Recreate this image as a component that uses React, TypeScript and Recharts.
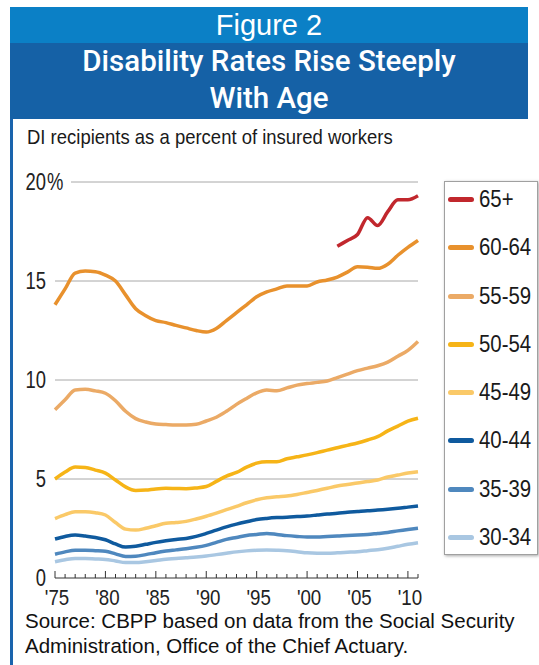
import React from 'react';
import { LineChart, Line, XAxis, YAxis, CartesianGrid, Legend } from 'recharts';

// DI recipients as a percent of insured workers, by age group
const years = [
    1975, 1976, 1977, 1978, 1979, 1980, 1981, 1982, 1983, 1984,
    1985, 1986, 1987, 1988, 1989, 1990, 1991, 1992, 1993, 1994,
    1995, 1996, 1997, 1998, 1999, 2000, 2001, 2002, 2003, 2004,
    2005, 2006, 2007, 2008, 2009, 2010, 2011,
];

const age65plus = [
    null, null, null, null, null, null, null, null, null, null,
    null, null, null, null, null, null, null, null, null, null,
    null, null, null, null, null, null, null, null, 16.75, 17.05,
    17.35, 18.2, 17.8, 18.5, 19.1, 19.1, 19.3,
];
const age60to64 = [
    13.8, 14.6, 15.4, 15.5, 15.47, 15.3, 15.0, 14.3, 13.6, 13.25,
    13.0, 12.9, 12.76, 12.63, 12.5, 12.42, 12.6, 13.0, 13.4, 13.8,
    14.2, 14.45, 14.6, 14.75, 14.75, 14.75, 14.95, 15.05, 15.2, 15.45,
    15.72, 15.7, 15.64, 15.85, 16.3, 16.7, 17.05,
];
const age55to59 = [
    8.5, 9.0, 9.5, 9.53, 9.45, 9.33, 8.95, 8.42, 8.05, 7.88,
    7.78, 7.75, 7.73, 7.73, 7.76, 7.93, 8.12, 8.42, 8.77, 9.07,
    9.35, 9.49, 9.46, 9.6, 9.74, 9.82, 9.88, 9.95, 10.12, 10.3,
    10.47, 10.6, 10.72, 10.9, 11.2, 11.5, 11.95,
];
const age50to54 = [
    5.0, 5.35, 5.6, 5.58, 5.45, 5.3, 4.95, 4.6, 4.42, 4.44,
    4.5, 4.53, 4.52, 4.51, 4.55, 4.62, 4.88, 5.15, 5.33, 5.6,
    5.8, 5.87, 5.87, 6.02, 6.12, 6.22, 6.33, 6.46, 6.58, 6.7,
    6.82, 6.97, 7.14, 7.43, 7.67, 7.92, 8.07,
];
const age45to49 = [
    3.0, 3.2, 3.35, 3.35, 3.3, 3.18, 2.8, 2.47, 2.42, 2.51,
    2.64, 2.76, 2.8, 2.86, 2.98, 3.12, 3.28, 3.45, 3.62, 3.8,
    3.95, 4.05, 4.1, 4.14, 4.22, 4.32, 4.42, 4.53, 4.65, 4.72,
    4.8, 4.87, 4.95, 5.1, 5.2, 5.3, 5.37,
];
const age40to44 = [
    1.97, 2.1, 2.17, 2.12, 2.05, 1.93, 1.72, 1.56, 1.6, 1.7,
    1.8, 1.88, 1.95, 2.0, 2.1, 2.25, 2.42, 2.58, 2.72, 2.84,
    2.95, 3.01, 3.05, 3.07, 3.1, 3.13, 3.18, 3.23, 3.27, 3.32,
    3.36, 3.4, 3.43, 3.47, 3.52, 3.58, 3.64,
];
const age35to39 = [
    1.2, 1.32, 1.4, 1.4, 1.38, 1.35, 1.22, 1.09, 1.1, 1.18,
    1.28, 1.36, 1.42, 1.48, 1.55, 1.65, 1.8, 1.95, 2.05, 2.15,
    2.2, 2.25, 2.2, 2.14, 2.1, 2.07, 2.07, 2.1, 2.12, 2.15,
    2.17, 2.2, 2.25, 2.3, 2.38, 2.45, 2.51,
];
const age30to34 = [
    0.82, 0.92, 0.99, 0.98, 0.96, 0.94, 0.86, 0.78, 0.78, 0.82,
    0.88, 0.95, 0.98, 1.02, 1.06, 1.11, 1.18, 1.25, 1.32, 1.37,
    1.4, 1.41, 1.4, 1.38, 1.33, 1.27, 1.25, 1.25, 1.27, 1.3,
    1.33, 1.38, 1.43, 1.5, 1.6, 1.7, 1.78,
];

const yTicks = [0, 5, 10, 15, 20];

const series = [
    { key: 'a65', name: '65+', values: age65plus, color: '#c1272d' },
    { key: 'a60', name: '60-64', values: age60to64, color: '#e8912d' },
    { key: 'a55', name: '55-59', values: age55to59, color: '#ebaa66' },
    { key: 'a50', name: '50-54', values: age50to54, color: '#f6b417' },
    { key: 'a45', name: '45-49', values: age45to49, color: '#fac968' },
    { key: 'a40', name: '40-44', values: age40to44, color: '#0f5a9e' },
    { key: 'a35', name: '35-39', values: age35to39, color: '#4f88be' },
    { key: 'a30', name: '30-34', values: age30to34, color: '#a9c7e2' },
];

const chartData = years.map((year, i) => {
    const row: any = { year };
    series.forEach((s) => { row[s.key] = s.values[i]; });
    return row;
});

// no condensed face installed, so squeeze Liberation Sans horizontally
const sans = '"Liberation Sans", Arial, sans-serif';

const YTick = ({ x, y, payload }: any) => {
    const v = payload.value;
    return (
        <g>
            {v === 20 && <rect x={x - 1} y={y - 4} width={17} height={8} fill="#fff" />}
            <text transform={`translate(${x - 9},${y + 8}) scale(0.8,1)`} textAnchor="end" fontFamily={sans} fontSize={23} fill="#222">{v}</text>
            {v === 20 && (
                <text transform={`translate(${x - 8},${y + 8}) scale(0.8,1)`} textAnchor="start" fontFamily={sans} fontSize={23} fill="#222">%</text>
            )}
        </g>
    );
};

const XTick = ({ x, y, payload }: any) => {
    const major = payload.value % 5 === 0;
    return (
        <g>
            <line x1={x} x2={x} y1={y} y2={y - (major ? 7 : 4)} stroke="#333" strokeWidth={1} />
            {major && (
                <text transform={`translate(${x + 2},${y + 27}) scale(0.85,1)`} textAnchor="middle" fontFamily={sans} fontSize={22} fill="#222">
                    {"'" + String(payload.value).slice(2)}
                </text>
            )}
        </g>
    );
};

const LegendBox = () => (
    <div style={{
        width: 94, height: 374, boxSizing: 'border-box', border: '1px solid #a0a0a0',
        boxShadow: '1px 1px 3px rgba(0,0,0,0.35)', background: '#fff',
        display: 'flex', flexDirection: 'column', justifyContent: 'space-between', padding: '5px 0',
    }}>
        {series.map((s) => (
            <div key={s.key} style={{ height: 24, position: 'relative' }}>
                <div style={{ position: 'absolute', left: 3, top: 10, width: 26, height: 5, borderRadius: 3, background: s.color }} />
                <span style={{
                    position: 'absolute', left: 34, top: 0, lineHeight: '24px', fontFamily: sans, fontSize: 24,
                    color: '#1a1a1a', whiteSpace: 'nowrap', transform: 'scaleX(0.85)', transformOrigin: 'left center',
                }}>{s.name}</span>
            </div>
        ))}
    </div>
);

export default function App() {
    return (
        <div style={{ position: 'absolute', left: 0, top: 0, width: 539, height: 665, background: '#fff', overflow: 'hidden' }}>
            <div style={{ position: 'absolute', left: 10, top: 7, width: 3, height: 658, background: '#1a64ad' }} />
            <div style={{
                position: 'absolute', left: 10, top: 7, width: 518, height: 36, background: '#0b80c6',
                color: '#fff', textAlign: 'center', fontFamily: sans, fontSize: 29, lineHeight: '36px',
            }}>Figure 2</div>
            <div style={{
                position: 'absolute', left: 10, top: 43, width: 518, height: 76, background: '#1561a6',
                color: '#fff', textAlign: 'center', fontFamily: 'Roboto, sans-serif', fontWeight: 500, fontSize: 29.5, lineHeight: '37px', paddingTop: 0,
            }}>
                Disability Rates Rise Steeply<br />With Age
            </div>
            <div style={{
                position: 'absolute', left: 27, top: 125, fontFamily: sans, fontSize: 21, color: '#1a1a1a', whiteSpace: 'nowrap',
                transform: 'scaleX(0.88)', transformOrigin: 'left center',
            }}>
                DI recipients as a percent of insured workers
            </div>

            <div style={{ position: 'absolute', left: 0, top: 160 }}>
                <LineChart width={539} height={460} data={chartData} margin={{ top: 22, right: 121, bottom: 0, left: 0 }}>
                    <CartesianGrid vertical={false} stroke="#a8a8a8" horizontalValues={[5, 10, 15, 20]} />
                    <XAxis
                        dataKey="year"
                        type="number"
                        domain={[1975, 2011]}
                        ticks={years}
                        interval={0}
                        height={42}
                        tickSize={0}
                        tickMargin={0}
                        tickLine={false}
                        axisLine={{ stroke: '#333' }}
                        tick={<XTick />}
                    />
                    <YAxis
                        type="number"
                        domain={[0, 20]}
                        ticks={yTicks}
                        width={55}
                        tickSize={0}
                        tickMargin={0}
                        axisLine={false}
                        tickLine={false}
                        tick={<YTick />}
                    />
                    <Legend
                        layout="horizontal"
                        verticalAlign="middle"
                        align="center"
                        content={<LegendBox />}
                        wrapperStyle={{ left: 444, top: 21, width: 94, height: 374 }}
                    />
                    {series.map((s) => (
                        <Line
                            key={s.key}
                            dataKey={s.key}
                            name={s.name}
                            type="monotone"
                            stroke={s.color}
                            strokeWidth={3.5}
                            strokeLinejoin="round"
                            dot={false}
                            activeDot={false}
                            isAnimationActive={false}
                        />
                    ))}
                </LineChart>
            </div>

            <div style={{ position: 'absolute', left: 25, top: 608, fontFamily: sans, fontSize: 20.5, lineHeight: '25px', color: '#111', whiteSpace: 'nowrap' }}>
                Source: CBPP based on data from the Social Security<br />
                Administration, Office of the Chief Actuary.
            </div>
        </div>
    );
}
